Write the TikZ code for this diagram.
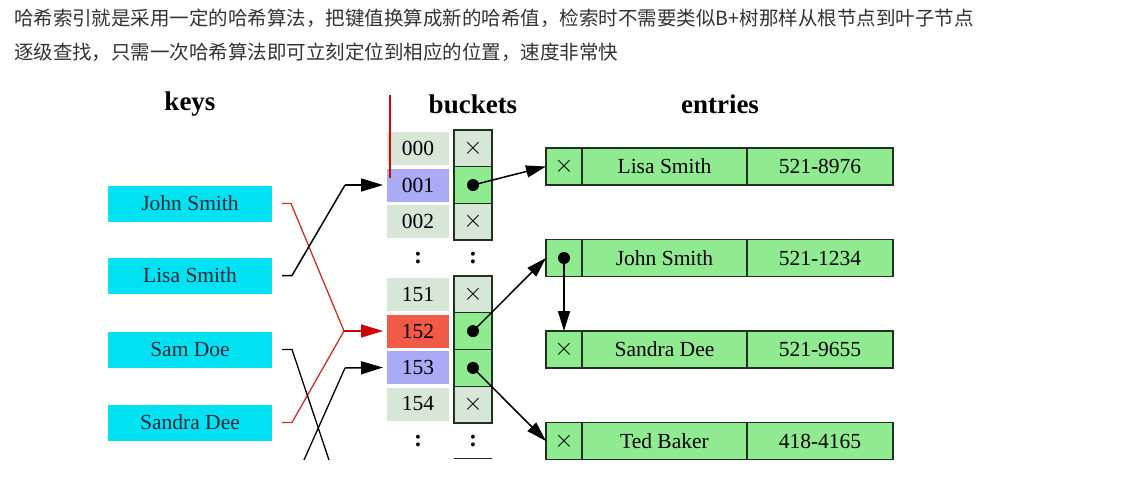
\documentclass[tikz,border=0pt]{standalone}
\usepackage{fontspec}
\setmainfont{Liberation Serif}
\newfontfamily\cjk{Noto Sans CJK SC}
\usetikzlibrary{arrows.meta,positioning}
\definecolor{keycyan}{RGB}{0,226,242}
\definecolor{entgreen}{RGB}{144,234,144}
\definecolor{cellgray}{RGB}{216,230,216}
\definecolor{lav}{RGB}{170,170,245}
\definecolor{redcell}{RGB}{242,90,72}
\definecolor{redline}{RGB}{200,50,42}
\definecolor{txtgray}{RGB}{51,51,51}
\definecolor{bordr}{RGB}{30,50,30}
\definecolor{keytxt}{RGB}{30,40,60}
\tikzset{
  every node/.style={inner sep=0pt, outer sep=0pt},
  bodyfont/.style={font=\fontsize{21.5}{24}\selectfont},
  keybox/.style={bodyfont, fill=keycyan, minimum width=164pt, minimum height=36pt, text=keytxt},
  idxcell/.style={bodyfont, fill=cellgray, minimum width=62pt, minimum height=33pt},
  ptrcell/.style={bodyfont, draw=bordr, line width=1.3pt, fill=cellgray, minimum width=38pt, minimum height=36.7pt},
  entcell/.style={bodyfont, draw=bordr, line width=1.2pt, fill=entgreen, minimum height=37pt},
  heading/.style={font=\bfseries\fontsize{27}{30}\selectfont},
  cjktext/.style={font=\cjk\fontsize{19.5}{22}\selectfont, text=txtgray, anchor=west},
  colon/.style={font=\bfseries\fontsize{24}{26}\selectfont},
  blk/.style={line width=1.5pt, black},
  redl/.style={line width=1.3pt, redline},
  tip/.style={-{Triangle[length=20pt,width=12pt]}},
  bigtip/.style={-{Triangle[length=22pt,width=13pt]}},
  dot/.style={circle, fill=black, minimum size=12pt}
}
\newcommand{\xmark}{{\fontsize{30}{30}\selectfont$\times$}}
\begin{document}
\begin{tikzpicture}[x=1pt,y=-1pt]
\useasboundingbox (0,0) rectangle (1130,477);
\fill[white] (0,0) rectangle (1130,477);

% text
\node[cjktext] (t1) at (14,18) {哈希索引就是采用一定的哈希算法，把键值换算成新的哈希值，检索时不需要类似B+树那样从根节点到叶子节点};
\node[cjktext] (t2) at (14,52) {逐级查找，只需一次哈希算法即可立刻定位到相应的位置，速度非常快};

% headings
\node[heading] (hk) at (190,104) {keys};
\node[heading] (hb) at (473,104) {buckets};
\node[heading] (he) at (720,104) {entries};

% keys
\node[keybox] (k1) at (190,203.5) {John Smith};
\node[keybox] (k2) at (190,275.5) {Lisa Smith};
\node[keybox] (k3) at (190,349.5) {Sam Doe};
\node[keybox] (k4) at (190,422.5) {Sandra Dee};

% bucket indexes
\node[idxcell] (i000) at (418,148.5) {000};
\node[idxcell, fill=lav] (i001) at (418,185) {001};
\node[idxcell] (i002) at (418,221.5) {002};
\node[colon] (ic1) at (418,258) {:};
\node[idxcell] (i151) at (418,294.5) {151};
\node[idxcell, fill=redcell] (i152) at (418,331) {152};
\node[idxcell, fill=lav] (i153) at (418,367.5) {153};
\node[idxcell] (i154) at (418,404) {154};
\node[colon] (ic2) at (418,441) {:};

% pointer cells
\node[ptrcell] (p000) at (473,148.3) {\xmark};
\node[ptrcell, fill=entgreen] (p001) at (473,185) {};
\node[ptrcell] (p002) at (473,221.7) {\xmark};
\node[colon] (pc1) at (473,258) {:};
\node[ptrcell] (p151) at (473,294.4) {\xmark};
\node[ptrcell, fill=entgreen] (p152) at (473,331.1) {};
\node[ptrcell, fill=entgreen] (p153) at (473,367.9) {};
\node[ptrcell] (p154) at (473,404.6) {\xmark};
\node[colon] (pc2) at (473,441) {:};
\coordinate (pb1) at (454,458.5);
\coordinate (pb2) at (492,458.5);
\draw[bordr, line width=1.3pt] (pb1) -- (pb2);

\node[dot] (d001) at (p001) {};
\node[dot] (d152) at (p152) {};
\node[dot] (d153) at (p153) {};

% red cursor line
\coordinate (rc1) at (390,95);
\coordinate (rc2) at (390,178);
\draw[red!85!black, line width=1.5pt] (rc1) -- (rc2);

% entries
\foreach \n/\y/\nm/\num in {e1/166.5/Lisa Smith/521-8976, e3/349.5/Sandra Dee/521-9655, e4/441/Ted Baker/418-4165}{
  \node[entcell, minimum width=36pt] (\n p) at (564,\y) {\xmark};
  \node[entcell, minimum width=165pt] (\n n) at (664.5,\y) {\nm};
  \node[entcell, minimum width=146pt] (\n v) at (820,\y) {\num};
}
\node[entcell, minimum width=36pt] (e2p) at (564,258) {};
\node[entcell, minimum width=165pt] (e2n) at (664.5,258) {John Smith};
\node[entcell, minimum width=146pt] (e2v) at (820,258) {521-1234};
\node[dot] (de2) at (e2p) {};

% bucket -> entries
\draw[blk, tip] (d001.center) -- (e1p.west);
\draw[blk, tip] (d152.center) -- (e2p.west);
\draw[blk, tip] (d153.center) -- (e4p.west);
\draw[blk, tip] (de2.center) -- (e3p.north);

% key -> bucket
\coordinate (j001) at (345,185);
\coordinate (j152) at (344,331);
\coordinate (j153) at (345,368);
\draw[redl] ([xshift=10pt]k1.east) -- ++(9,0) -- (j152);
\draw[redl] ([xshift=10pt]k4.east) -- ++(10,0) -- (j152);
\draw[redl, line width=1.6pt, -{Triangle[length=22pt,width=13pt]}, red!80!black] (j152) -- ([xshift=-4pt]i152.west);
\draw[blk] ([xshift=10pt]k2.east) -- ++(10,0) -- (j001);
\draw[blk, bigtip] (j001) -- ([xshift=-4pt]i001.west);
\coordinate (samend) at (329,460);
\draw[blk, line width=1.3pt] ([xshift=10pt]k3.east) -- ++(10,0) -- (samend);
\coordinate (tedstart) at (304,460);
\draw[blk, line width=1.3pt] (tedstart) -- (j153);
\draw[blk, bigtip] (j153) -- ([xshift=-4pt]i153.west);
\end{tikzpicture}
\end{document}
